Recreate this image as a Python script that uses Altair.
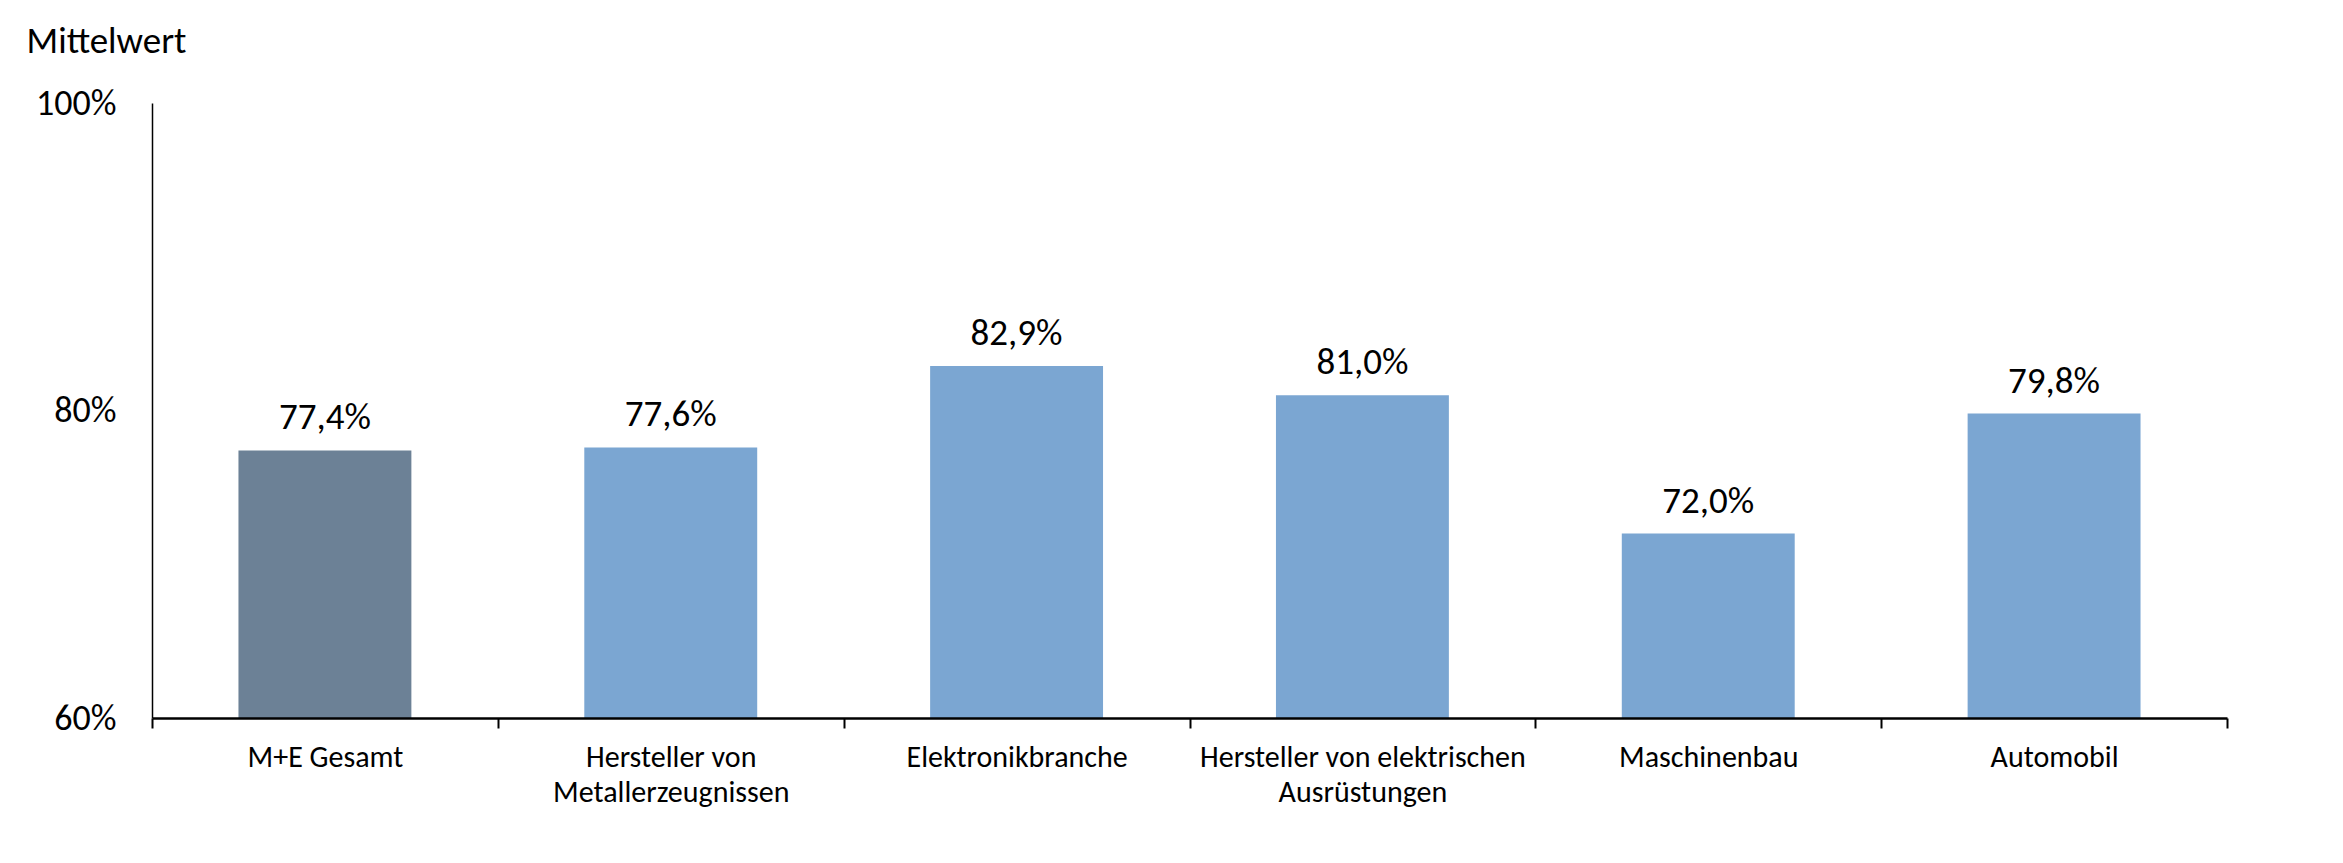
import altair as alt
import pandas as pd

# ---- data ----
categories = [
    "M+E Gesamt",
    "Hersteller von\nMetallerzeugnissen",
    "Elektronikbranche",
    "Hersteller von elektrischen\nAusrüstungen",
    "Maschinenbau",
    "Automobil",
]
values = [77.4, 77.6, 82.9, 81.0, 72.0, 79.8]
bar_colors = ["#6C8196", "#7BA6D2", "#7BA6D2", "#7BA6D2", "#7BA6D2", "#7BA6D2"]
y_ticks = [60, 80, 100]
y_domain = [60, 100]

FONT = "Carlito, Calibri, Lato, sans-serif"

df = pd.DataFrame({"Kategorie": categories, "Wert": values})

x_enc = alt.X(
    "Kategorie:N",
    sort=categories,
    scale=alt.Scale(paddingInner=0, paddingOuter=0),
    axis=alt.Axis(
        title=None,
        labelAngle=0,
        labelExpr="split(datum.label, '\\n')",
        labelFont=FONT,
        labelFontSize=30,
        labelColor="#000000",
        labelLineHeight=35,
        labelPadding=14,
        labelLimit=0,
        tickBand="extent",
        ticks=True,
        tickSize=10,
        tickColor="#000000",
        tickWidth=2,
        domainColor="#000000",
        domainWidth=2.5,
        grid=False,
        zindex=1,
    ),
)

y_enc = alt.Y(
    "Wert:Q",
    scale=alt.Scale(domain=y_domain, zero=False, nice=False),
    axis=alt.Axis(
        values=y_ticks,
        labelExpr="datum.value + '%'",
        labelFont=FONT,
        labelFontSize=36,
        labelColor="#000000",
        labelPadding=36,
        ticks=False,
        grid=False,
        domainColor="#000000",
        domainWidth=1.5,
        title="Mittelwert",
        titleAngle=0,
        titleAlign="left",
        titleBaseline="alphabetic",
        titleX=-126,
        titleY=-51,
        titleFont=FONT,
        titleFontSize=37,
        titleFontWeight="normal",
        titleColor="#000000",
        zindex=1,
    ),
)

bars = alt.Chart(df).mark_bar(width={"band": 0.5}).encode(
    x=x_enc,
    y=y_enc,
    y2=alt.Y2(datum=y_domain[0]),
    color=alt.Color(
        "Kategorie:N",
        scale=alt.Scale(domain=categories, range=bar_colors),
        legend=None,
    ),
)

labels = (
    alt.Chart(df)
    .transform_calculate(
        txt="replace(format(datum.Wert, '.1f'), '.', ',') + '%'"
    )
    .mark_text(
        baseline="alphabetic",
        align="center",
        dy=-21,
        font=FONT,
        fontSize=37,
        color="#000000",
    )
    .encode(
        x=alt.X("Kategorie:N", sort=categories),
        y=alt.Y("Wert:Q"),
        text="txt:N",
    )
)

chart = (
    alt.layer(bars, labels)
    .properties(
        width=2075,
        height=615,
        padding={"left": 144, "top": 95, "right": 108, "bottom": 137},
        autosize=alt.AutoSizeParams(type="none"),
        background="#FFFFFF",
    )
    .configure_view(stroke=None)
)

chart.save("out.html", embed_options={"renderer": "svg", "actions": False})
